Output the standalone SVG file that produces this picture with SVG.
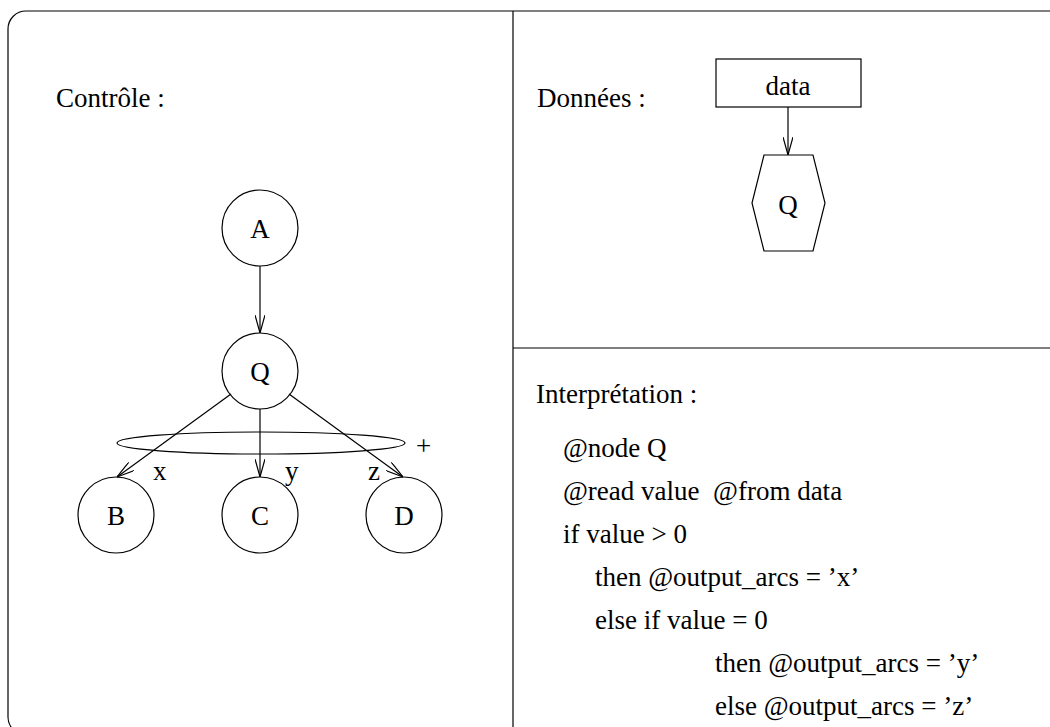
<svg xmlns="http://www.w3.org/2000/svg" width="1050" height="727" viewBox="0 0 1050 727">
<style>
text{font-family:"Liberation Serif","Times New Roman",serif;font-size:27px;fill:#000}
.s{fill:none;stroke:#000;stroke-width:1.2}
.m{text-anchor:middle}
</style>
<defs>
<marker id="ah" viewBox="0 0 18 10" refX="18" refY="5" markerWidth="18" markerHeight="10" markerUnits="userSpaceOnUse" orient="auto">
<path d="M0,0 L18,5 L0,10" fill="none" stroke="#000" stroke-width="1.2"/>
</marker>
</defs>
<rect width="1050" height="727" fill="#fff"/>
<g id="frame">
<rect class="s" x="8" y="11" width="1070" height="724" rx="18"/>
<line class="s" x1="513" y1="11" x2="513" y2="727"/>
<line class="s" x1="513" y1="348" x2="1050" y2="348"/>
</g>
<text x="56" y="107">Contrôle :</text>
<text x="537" y="107">Données :</text>
<text x="536" y="403">Interprétation :</text>
<g id="node-A"><circle class="s" cx="260" cy="228" r="38"/><text class="m" x="260" y="238">A</text></g>
<g id="node-Q"><circle class="s" cx="260" cy="371" r="38"/><text class="m" x="260" y="381">Q</text></g>
<g id="node-B"><circle class="s" cx="116" cy="515" r="38"/><text class="m" x="116" y="525">B</text></g>
<g id="node-C"><circle class="s" cx="260" cy="515" r="38"/><text class="m" x="260" y="525">C</text></g>
<g id="node-D"><circle class="s" cx="404" cy="515" r="38"/><text class="m" x="404" y="525">D</text></g>
<g id="node-data"><rect class="s" x="716" y="59" width="145" height="48"/><text class="m" x="788" y="95">data</text></g>
<g id="node-Qhex"><polygon class="s" points="764,155 813,155 825,203 813,251 764,251 752,203"/><text class="m" x="788" y="214">Q</text></g>
<g id="connectors">
<line class="s" x1="260" y1="266" x2="260" y2="333" marker-end="url(#ah)"/>
<line class="s" x1="231" y1="394" x2="117" y2="477" marker-end="url(#ah)"/>
<line class="s" x1="260" y1="409" x2="260" y2="477" marker-end="url(#ah)"/>
<line class="s" x1="289" y1="394" x2="403" y2="477" marker-end="url(#ah)"/>
<line class="s" x1="788" y1="107" x2="788" y2="155" marker-end="url(#ah)"/>
<ellipse class="s" cx="261" cy="443" rx="144" ry="11"/>
<text x="153" y="480">x</text>
<text x="285" y="480">y</text>
<text x="368" y="480">z</text>
<text x="416" y="455">+</text>
</g>
<g id="code">
<text x="563" y="457">@node Q</text>
<text x="563" y="500" xml:space="preserve">@read value  @from data</text>
<text x="563" y="543">if value &gt; 0</text>
<text x="595" y="586">then @output_arcs = ’x’</text>
<text x="595" y="629">else if value = 0</text>
<text x="715" y="672">then @output_arcs = ’y’</text>
<text x="715" y="715">else @output_arcs = ’z’</text>
</g>
</svg>
